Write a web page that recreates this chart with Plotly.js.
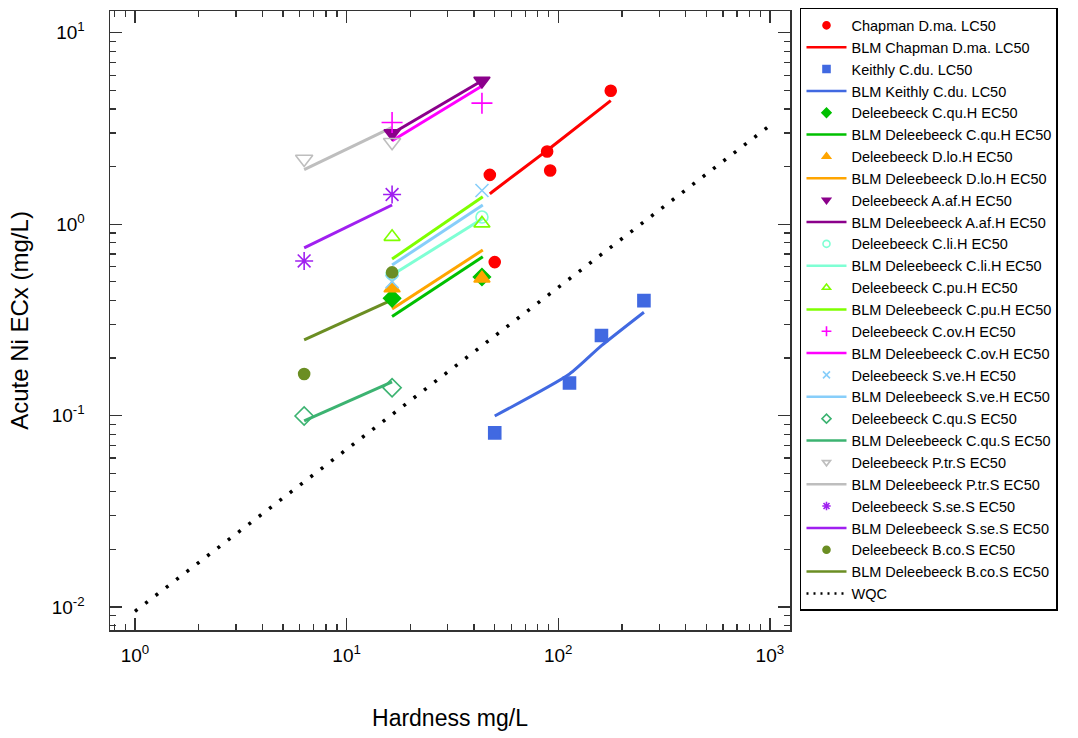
<!DOCTYPE html>
<html>
<head>
<meta charset="utf-8">
<script src="https://cdn.plot.ly/plotly-3.0.1.min.js"></script>
<style>html,body{margin:0;padding:0;background:#fff;}#chart{width:1078px;height:738px;}</style>
</head>
<body>
<div id="chart"></div>
<script>
// ---------- data ----------
const chapH   = [47.5, 50.1, 88.6, 91.6, 177];
const chapEC  = [1.81, 0.634, 2.40, 1.91, 4.98];
const chapBLM = [1.44, 1.51, 2.43, 2.50, 4.42];

const keithH   = [50.1, 113, 160, 254];
const keithEC  = [0.0813, 0.148, 0.262, 0.399];
const keithBLM = [0.0996, 0.165, 0.232, 0.347];

const hardH  = [16.4, 43.6];   // Deleebeeck hard-water test hardness
const hardHL = [16.4, 44];     // BLM line hardness
const softH  = [6.3, 16.4];    // Deleebeeck soft-water test hardness

const cquH_EC = [0.410, 0.53],  cquH_BLM = [0.330, 0.676];
const dloH_EC = [0.463, 0.521], dloH_BLM = [0.361, 0.733];
const aafH_EC = [2.99, 5.61],   aafH_BLM = [2.98, 5.65];
const cliH_EC = [0.55, 1.09],   cliH_BLM = [0.543, 1.07];
const cpuH_EC = [0.859, 1.01],  cpuH_BLM = [0.658, 1.39];
const covH_EC = [3.40, 4.29],   covH_BLM = [2.73, 5.30];
const sveH_EC = [0.501, 1.50],  sveH_BLM = [0.612, 1.26];
const cquS_EC = [0.0996, 0.140], cquS_BLM = [0.094, 0.150];
const ptrS_EC = [2.19, 2.68],   ptrS_BLM = [1.93, 3.21];
const sseS_EC = [0.643, 1.43],  sseS_BLM = [0.753, 1.26];
const bcoS_EC = [0.165, 0.560], bcoS_BLM = [0.249, 0.403];

const wqcH = [1, 1000];
const wqcV = [0.0095, 3.28];

const xTickVals = [1, 10, 100, 1000];
const xTickText = ['10<sup>0</sup>', '10<sup>1</sup>', '10<sup>2</sup>', '10<sup>3</sup>'];
const yTickVals = [0.01, 0.1, 1, 10];
const yTickText = ['10<sup>-2</sup>', '10<sup>-1</sup>', '10<sup>0</sup>', '10<sup>1</sup>'];
const digits = [2, 3, 4, 5, 6, 7, 8, 9];

// ---------- series definitions ----------
const series = [
  {name: 'Chapman D.ma. LC50', x: chapH, ec: chapEC, lx: chapH, blm: chapBLM, color: '#FF0000', sym: 'circle', size: 11},
  {name: 'Keithly C.du. LC50', x: keithH, ec: keithEC, lx: keithH, blm: keithBLM, color: '#4169E1', sym: 'square', size: 12},
  {name: 'Deleebeeck C.qu.H EC50', x: hardH, ec: cquH_EC, lx: hardHL, blm: cquH_BLM, color: '#00C000', sym: 'diamond', size: 13},
  {name: 'Deleebeeck D.lo.H EC50', x: hardH, ec: dloH_EC, lx: hardHL, blm: dloH_BLM, color: '#FFA500', sym: 'triangle-up', size: 14},
  {name: 'Deleebeeck A.af.H EC50', x: hardH, ec: aafH_EC, lx: hardHL, blm: aafH_BLM, color: '#8B008B', sym: 'triangle-down', size: 14},
  {name: 'Deleebeeck C.li.H EC50', x: hardH, ec: cliH_EC, lx: hardHL, blm: cliH_BLM, color: '#7FFFD4', sym: 'circle-open', size: 12},
  {name: 'Deleebeeck C.pu.H EC50', x: hardH, ec: cpuH_EC, lx: hardHL, blm: cpuH_BLM, color: '#7FFF00', sym: 'triangle-up-open', size: 14},
  {name: 'Deleebeeck C.ov.H EC50', x: hardH, ec: covH_EC, lx: hardHL, blm: covH_BLM, color: '#FF00FF', sym: 'cross-thin-open', size: 15},
  {name: 'Deleebeeck S.ve.H EC50', x: hardH, ec: sveH_EC, lx: hardHL, blm: sveH_BLM, color: '#87CEFA', sym: 'x-thin-open', size: 13},
  {name: 'Deleebeeck C.qu.S EC50', x: softH, ec: cquS_EC, lx: softH, blm: cquS_BLM, color: '#3CB371', sym: 'diamond-open', size: 14},
  {name: 'Deleebeeck P.tr.S EC50', x: softH, ec: ptrS_EC, lx: softH, blm: ptrS_BLM, color: '#BEBEBE', sym: 'triangle-down-open', size: 15},
  {name: 'Deleebeeck S.se.S EC50', x: softH, ec: sseS_EC, lx: softH, blm: sseS_BLM, color: '#A020F0', sym: 'asterisk-open', size: 15},
  {name: 'Deleebeeck B.co.S EC50', x: softH, ec: bcoS_EC, lx: softH, blm: bcoS_BLM, color: '#6B8E23', sym: 'circle', size: 11}
];

const traces = [];
// plotted lines first, then markers on top
series.forEach(s => {
  traces.push({x: s.lx, y: s.blm, type: 'scatter', mode: 'lines', showlegend: false,
    line: {color: s.color, width: 3, shape: 'spline', smoothing: 0.6}, hoverinfo: 'skip'});
});
traces.push({x: wqcH, y: wqcV, type: 'scatter', mode: 'lines', showlegend: false,
  line: {color: '#000', width: 3.5, dash: '3px,10px'}});
series.forEach(s => {
  traces.push({x: s.x, y: s.ec, type: 'scatter', mode: 'markers', showlegend: false,
    marker: {color: s.color, symbol: s.sym, size: s.size, line: {color: s.color, width: 1.6}}});
});
// legend entries (small symbols like the reference legend)
series.forEach(s => {
  traces.push({x: [null], y: [null], type: 'scatter', mode: 'markers', name: s.name,
    marker: {color: s.color, symbol: s.sym, size: 7, line: {color: s.color, width: 1.6}}});
  traces.push({x: [null], y: [null], type: 'scatter', mode: 'lines', name: 'BLM ' + s.name,
    line: {color: s.color, width: 2.5}});
});
traces.push({x: [null], y: [null], type: 'scatter', mode: 'lines', name: 'WQC',
  line: {color: '#000', width: 2.5, dash: '2px,5px'}});

const axisCommon = {
  type: 'log', showgrid: false, zeroline: false,
  showline: true, linecolor: '#333', linewidth: 1.5, mirror: 'ticks',
  ticks: 'inside', ticklen: 12, tickwidth: 1.3, tickcolor: '#333',
  tickmode: 'array', tickfont: {size: 19, color: '#000'}
};

const layout = {
  width: 1078, height: 738,
  margin: {l: 110, r: 288, t: 8, b: 108},
  paper_bgcolor: '#fff', plot_bgcolor: '#fff',
  font: {family: '"Liberation Sans", Arial, sans-serif', color: '#000'},
  showlegend: true,
  xaxis: Object.assign({}, axisCommon, {
    range: [-0.118, 3.095], tickvals: xTickVals, ticktext: xTickText,
    ticklabelstandoff: 8,
    minor: {tickmode: 'array', tickvals: [].concat(...xTickVals.map(d => digits.map(k => k * d))).concat(digits.map(k => k / 10)),
            ticks: 'inside', ticklen: 6, tickwidth: 1.3, tickcolor: '#333'},
    title: {text: 'Hardness mg/L', font: {size: 23}, standoff: 44}
  }),
  yaxis: Object.assign({}, axisCommon, {
    range: [-2.12, 1.114], tickvals: yTickVals, ticktext: yTickText,
    ticklabelstandoff: 20,
    minor: {tickmode: 'array', tickvals: [].concat(...[0.001, 0.01, 0.1, 1, 10].map(d => digits.map(k => k * d))),
            ticks: 'inside', ticklen: 6, tickwidth: 1.3, tickcolor: '#333'},
    title: {text: 'Acute Ni ECx (mg/L)', font: {size: 24}, standoff: 16}
  }),
  legend: {
    x: 1.0147, xanchor: 'left', y: 1.005, yanchor: 'top',
    bordercolor: '#000', borderwidth: 1.5, bgcolor: '#fff',
    font: {size: 14.5, color: '#000'}, itemwidth: 40, tracegroupgap: 0,
    maxheight: 730,
    itemclick: false, itemdoubleclick: false
  }
};

Plotly.newPlot('chart', traces, layout, {displayModeBar: false, staticPlot: true});
</script>
</body>
</html>
